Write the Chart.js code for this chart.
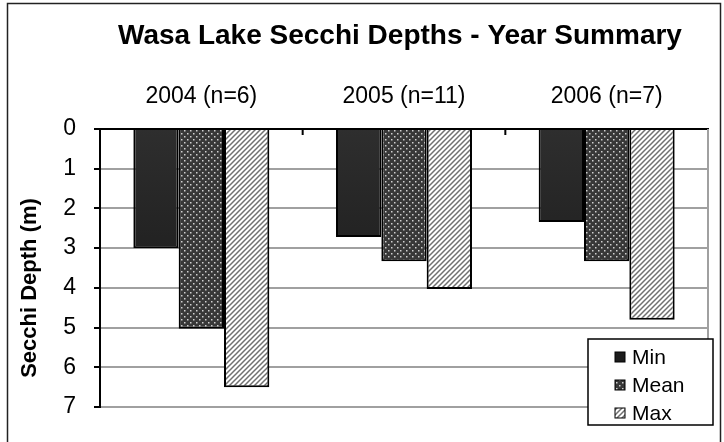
<!DOCTYPE html>
<html>
<head>
<meta charset="utf-8">
<script src="https://cdn.jsdelivr.net/npm/chart.js@4.4.1/dist/chart.umd.min.js"></script>
<style>
  html, body { margin: 0; padding: 0; background: #fff; }
  #wrap { width: 724px; height: 442px; position: relative; }
</style>
</head>
<body>
<div id="wrap"><canvas id="chart" width="724" height="442"></canvas></div>
<script>
// Dados do gráfico
const categories = ['2004 (n=6)', '2005 (n=11)', '2006 (n=7)'];
const seriesNames = ['Min', 'Mean', 'Max'];
const minDepth = [3.0, 2.72, 2.34];
const meanDepth = [5.03, 3.33, 3.33];
const maxDepth = [6.5, 4.03, 4.8];
const yTicks = [0, 1, 2, 3, 4, 5, 6, 7];

const FONT = '"Liberation Sans", Arial, sans-serif';

// Padrões de preenchimento
function dotPattern() {
    const c = document.createElement('canvas');
    c.width = 6; c.height = 6;
    const g = c.getContext('2d');
    g.fillStyle = '#383838';
    g.fillRect(0, 0, 6, 6);
    g.fillStyle = '#d0d0d0';
    g.fillRect(1, 1, 1.5, 1.5);
    g.fillRect(4, 4, 1.5, 1.5);
    return g.createPattern(c, 'repeat');
}

function hatchPattern() {
    const c = document.createElement('canvas');
    c.width = 5; c.height = 5;
    const g = c.getContext('2d');
    g.fillStyle = '#ffffff';
    g.fillRect(0, 0, 5, 5);
    g.strokeStyle = '#707070';
    g.lineWidth = 1.5;
    g.beginPath();
    g.moveTo(-1, 6); g.lineTo(6, -1);
    g.moveTo(-1, 1); g.lineTo(1, -1);
    g.moveTo(4, 6); g.lineTo(6, 4);
    g.stroke();
    return g.createPattern(c, 'repeat');
}

function darkGradient(context) {
    const chart = context.chart;
    const area = chart.chartArea;
    if (!area) return '#1c1c1c';
    const grad = chart.ctx.createLinearGradient(0, area.top, 0, area.bottom);
    grad.addColorStop(0, '#2e2e2e');
    grad.addColorStop(1, '#121212');
    return grad;
}

const dots = dotPattern();
const hatch = hatchPattern();
const fills = [darkGradient, dots, hatch];
const legendSwatches = ['#1c1c1c', dots, hatch];

// Título, eixo Y, legenda e moldura
const decorPlugin = {
    id: 'decor',
    afterDraw(chart) {
        const ctx = chart.ctx;
        const a = chart.chartArea;
        ctx.save();

        // moldura externa
        ctx.strokeStyle = '#222';
        ctx.lineWidth = 1.5;
        ctx.strokeRect(7.5, 3.5, 713, 460);

        // título
        ctx.fillStyle = '#000';
        ctx.font = 'bold 28px ' + FONT;
        ctx.textAlign = 'center';
        ctx.textBaseline = 'middle';
        ctx.fillText('Wasa Lake Secchi Depths - Year Summary', 400, 36);

        // título do eixo Y
        ctx.save();
        ctx.translate(30, 288);
        ctx.rotate(-Math.PI / 2);
        ctx.font = 'bold 22px ' + FONT;
        ctx.fillText('Secchi Depth (m)', 0, 0);
        ctx.restore();

        // borda direita da área do gráfico
        ctx.strokeStyle = '#a0a0a0';
        ctx.lineWidth = 2;
        ctx.beginPath();
        ctx.moveTo(a.right, a.top);
        ctx.lineTo(a.right, a.bottom);
        ctx.stroke();

        // marcas entre categorias
        const xs = chart.scales.x;
        ctx.strokeStyle = '#000';
        ctx.lineWidth = 2;
        for (let i = 1; i < categories.length; i++) {
            const x = (xs.getPixelForValue(i - 1) + xs.getPixelForValue(i)) / 2;
            ctx.beginPath();
            ctx.moveTo(x, a.top);
            ctx.lineTo(x, a.top + 6);
            ctx.stroke();
        }

        // legenda
        const lx = 588, ly = 339, lw = 125, lh = 86;
        ctx.fillStyle = '#fff';
        ctx.fillRect(lx, ly, lw, lh);
        ctx.strokeStyle = '#000';
        ctx.lineWidth = 1.5;
        ctx.strokeRect(lx, ly, lw, lh);
        ctx.font = '21px ' + FONT;
        ctx.textAlign = 'left';
        chart.data.datasets.forEach((ds, i) => {
            const cy = ly + 18 + i * 28;
            ctx.fillStyle = legendSwatches[i];
            ctx.fillRect(615, cy - 5, 10, 10);
            ctx.lineWidth = 1;
            ctx.strokeRect(615, cy - 5, 10, 10);
            ctx.fillStyle = '#000';
            ctx.fillText(ds.label, 632, cy + 1);
        });
        ctx.restore();
    }
};

function makeDataset(i, values) {
    return {
        label: seriesNames[i],
        data: values,
        backgroundColor: fills[i],
        borderColor: '#000',
        borderWidth: 2,
        barPercentage: 1,
        categoryPercentage: 0.671
    };
}

new Chart(document.getElementById('chart'), {
    type: 'bar',
    data: {
        labels: categories,
        datasets: [
            makeDataset(0, minDepth),
            makeDataset(1, meanDepth),
            makeDataset(2, maxDepth)
        ]
    },
    options: {
        responsive: false,
        animation: false,
        layout: { padding: { left: 0, top: 0, right: 16, bottom: 35 } },
        plugins: {
            legend: { display: false },
            title: { display: false },
            tooltip: { enabled: false }
        },
        scales: {
            x: {
                position: 'top',
                afterFit: s => { s.height = 129; },
                grid: { display: false, drawTicks: false },
                border: { color: '#000', width: 2 },
                ticks: {
                    color: '#000',
                    padding: 19,
                    font: { family: FONT, size: 23 }
                }
            },
            y: {
                reverse: true,
                min: 0,
                max: 7,
                afterFit: s => { s.width = 100; },
                afterBuildTicks: s => { s.ticks = yTicks.map(v => ({ value: v })); },
                grid: { color: '#a0a0a0', lineWidth: 2, tickColor: '#000', tickLength: 6 },
                border: { color: '#000', width: 2 },
                ticks: {
                    color: '#000',
                    padding: 18,
                    font: { family: FONT, size: 23 }
                }
            }
        }
    },
    plugins: [decorPlugin]
});
</script>
</body>
</html>
